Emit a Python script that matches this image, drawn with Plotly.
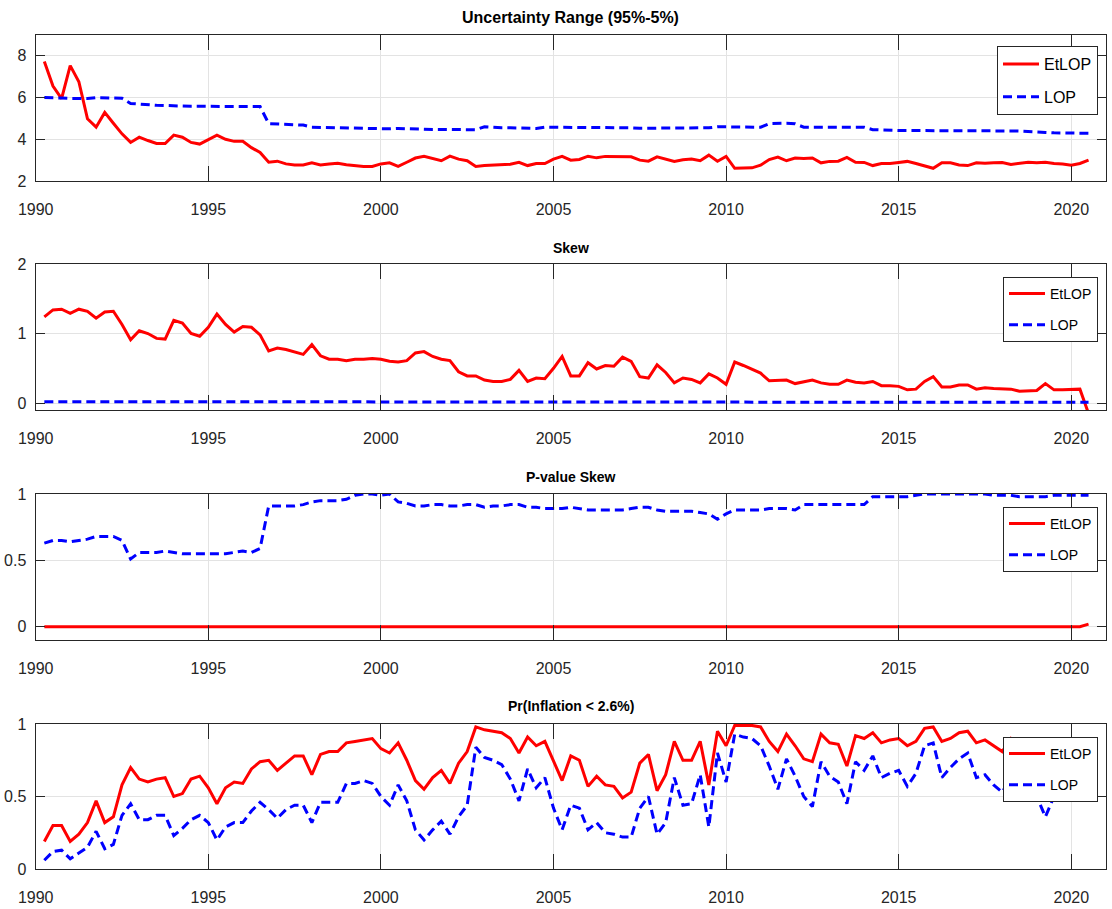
import plotly.graph_objects as go

# Quarterly time axis, 1990Q1 .. 2020Q3 plotted at year + quarter/4
quarters = [1990.25 + 0.25 * k for k in range(122)]

# Uncertainty range (95%-5%)
range_etlop = [
    7.73, 6.55, 5.95, 7.53, 6.76, 4.98, 4.58, 5.29, 4.77, 4.26,
    3.85, 4.10, 3.94, 3.80, 3.80, 4.20, 4.10, 3.85, 3.77, 4.00,
    4.20, 4.00, 3.90, 3.90, 3.60, 3.37, 2.90, 2.95, 2.82, 2.77,
    2.77, 2.87, 2.77, 2.82, 2.85, 2.78, 2.73, 2.70, 2.70, 2.82,
    2.87, 2.70, 2.90, 3.10, 3.18, 3.06, 2.97, 3.19, 3.05, 2.97,
    2.70, 2.74, 2.76, 2.76, 2.80, 2.90, 2.74, 2.84, 2.84, 3.05,
    3.18, 3.00, 3.03, 3.19, 3.11, 3.18, 3.18, 3.18, 3.16, 3.00,
    2.95, 3.16, 3.06, 2.94, 3.02, 3.05, 2.97, 3.24, 2.95, 3.18,
    2.61, 2.63, 2.63, 2.76, 3.03, 3.15, 2.97, 3.10, 3.08, 3.10,
    2.87, 2.94, 2.95, 3.13, 2.90, 2.89, 2.74, 2.84, 2.84, 2.89,
    2.94, 2.84, 2.71, 2.61, 2.87, 2.87, 2.77, 2.74, 2.87, 2.85,
    2.87, 2.89, 2.79, 2.85, 2.90, 2.87, 2.90, 2.84, 2.82, 2.76,
    2.84, 3.00,
]
range_lop = [
    6.00, 6.00, 5.98, 5.96, 5.95, 5.95, 6.00, 5.98, 5.96, 5.97,
    5.72, 5.68, 5.65, 5.63, 5.62, 5.60, 5.58, 5.58, 5.58, 5.58,
    5.57, 5.57, 5.56, 5.55, 5.55, 5.57, 4.75, 4.73, 4.72, 4.72,
    4.68, 4.58, 4.57, 4.56, 4.56, 4.56, 4.55, 4.55, 4.53, 4.50,
    4.50, 4.52, 4.50, 4.48, 4.47, 4.47, 4.47, 4.47, 4.47, 4.46,
    4.46, 4.60, 4.56, 4.55, 4.55, 4.54, 4.53, 4.52, 4.58, 4.58,
    4.58, 4.58, 4.58, 4.57, 4.58, 4.57, 4.56, 4.56, 4.55, 4.53,
    4.53, 4.53, 4.53, 4.55, 4.53, 4.53, 4.53, 4.55, 4.60, 4.60,
    4.58, 4.57, 4.57, 4.58, 4.75, 4.77, 4.77, 4.74, 4.58, 4.58,
    4.58, 4.59, 4.60, 4.60, 4.60, 4.58, 4.46, 4.44, 4.43, 4.42,
    4.42, 4.42, 4.43, 4.43, 4.43, 4.42, 4.42, 4.41, 4.41, 4.41,
    4.40, 4.40, 4.40, 4.39, 4.38, 4.36, 4.33, 4.31, 4.30, 4.30,
    4.29, 4.29,
]

# Skew
skew_etlop = [
    1.24, 1.34, 1.35, 1.29, 1.35, 1.32, 1.22, 1.31, 1.32, 1.13,
    0.91, 1.04, 1.00, 0.93, 0.92, 1.19, 1.15, 1.00, 0.96, 1.09,
    1.28, 1.13, 1.02, 1.10, 1.09, 0.98, 0.75, 0.79, 0.77, 0.74,
    0.70, 0.84, 0.68, 0.63, 0.63, 0.61, 0.63, 0.63, 0.64, 0.63,
    0.60, 0.59, 0.61, 0.72, 0.74, 0.67, 0.63, 0.61, 0.45, 0.39,
    0.39, 0.33, 0.31, 0.31, 0.34, 0.47, 0.31, 0.36, 0.35, 0.50,
    0.67, 0.39, 0.39, 0.58, 0.49, 0.54, 0.53, 0.66, 0.60, 0.38,
    0.36, 0.55, 0.44, 0.29, 0.36, 0.34, 0.29, 0.42, 0.36, 0.27,
    0.59, 0.54, 0.48, 0.43, 0.32, 0.33, 0.33, 0.28, 0.30, 0.33,
    0.29, 0.27, 0.27, 0.33, 0.30, 0.29, 0.31, 0.25, 0.25, 0.24,
    0.19, 0.20, 0.31, 0.38, 0.23, 0.23, 0.26, 0.26, 0.20, 0.22,
    0.21, 0.20, 0.20, 0.17, 0.18, 0.18, 0.28, 0.19, 0.19, 0.20,
    0.20, -0.15,
]
skew_lop = [
    0.02, 0.02, 0.02, 0.02, 0.02, 0.02, 0.02, 0.02, 0.02, 0.02,
    0.02, 0.02, 0.02, 0.02, 0.02, 0.02, 0.02, 0.02, 0.02, 0.02,
    0.02, 0.02, 0.02, 0.02, 0.02, 0.02, 0.01, 0.01, 0.01, 0.01,
    0.01, 0.01, 0.01, 0.01, 0.01, 0.01, 0.01, 0.01, 0.01, 0.01,
    0.01, 0.01, 0.01, 0.01, 0.01, 0.01, 0.01, 0.01, 0.01, 0.01,
    0.01, 0.01, 0.01, 0.01, 0.01, 0.01, 0.01, 0.01, 0.01, 0.01,
    0.01, 0.01, 0.01, 0.01, 0.01, 0.01, 0.01, 0.01, 0.01, 0.01,
    0.01, 0.01, 0.01, 0.01, 0.01, 0.01, 0.01, 0.01, 0.01, 0.01,
    0.01, 0.01, 0.01, 0.01, 0.01, 0.01, 0.01, 0.01, 0.01, 0.01,
    0.01, 0.01, 0.01, 0.01, 0.01, 0.01, 0.01, 0.01, 0.01, 0.01,
    0.01, 0.01, 0.01, 0.01, 0.01, 0.01, 0.01, 0.01, 0.01, 0.01,
    0.01, 0.01, 0.01, 0.01, 0.01, 0.01, 0.01, 0.01, 0.01, 0.01,
    0.01, 0.01,
]

# P-value of the skew
pval_etlop = [
    0.00, 0.00, 0.00, 0.00, 0.00, 0.00, 0.00, 0.00, 0.00, 0.00,
    0.00, 0.00, 0.00, 0.00, 0.00, 0.00, 0.00, 0.00, 0.00, 0.00,
    0.00, 0.00, 0.00, 0.00, 0.00, 0.00, 0.00, 0.00, 0.00, 0.00,
    0.00, 0.00, 0.00, 0.00, 0.00, 0.00, 0.00, 0.00, 0.00, 0.00,
    0.00, 0.00, 0.00, 0.00, 0.00, 0.00, 0.00, 0.00, 0.00, 0.00,
    0.00, 0.00, 0.00, 0.00, 0.00, 0.00, 0.00, 0.00, 0.00, 0.00,
    0.00, 0.00, 0.00, 0.00, 0.00, 0.00, 0.00, 0.00, 0.00, 0.00,
    0.00, 0.00, 0.00, 0.00, 0.00, 0.00, 0.00, 0.00, 0.00, 0.00,
    0.00, 0.00, 0.00, 0.00, 0.00, 0.00, 0.00, 0.00, 0.00, 0.00,
    0.00, 0.00, 0.00, 0.00, 0.00, 0.00, 0.00, 0.00, 0.00, 0.00,
    0.00, 0.00, 0.00, 0.00, 0.00, 0.00, 0.00, 0.00, 0.00, 0.00,
    0.00, 0.00, 0.00, 0.00, 0.00, 0.00, 0.00, 0.00, 0.00, 0.00,
    0.00, 0.02,
]
pval_lop = [
    0.63, 0.65, 0.65, 0.64, 0.65, 0.66, 0.68, 0.68, 0.68, 0.65,
    0.51, 0.56, 0.56, 0.56, 0.57, 0.56, 0.55, 0.55, 0.55, 0.55,
    0.55, 0.55, 0.56, 0.57, 0.56, 0.59, 0.91, 0.91, 0.91, 0.91,
    0.92, 0.94, 0.95, 0.95, 0.95, 0.96, 0.99, 1.00, 1.00, 0.99,
    1.00, 0.94, 0.93, 0.91, 0.91, 0.92, 0.92, 0.91, 0.91, 0.92,
    0.92, 0.90, 0.91, 0.91, 0.92, 0.92, 0.90, 0.90, 0.89, 0.89,
    0.89, 0.90, 0.89, 0.88, 0.88, 0.88, 0.88, 0.88, 0.89, 0.90,
    0.90, 0.88, 0.87, 0.87, 0.87, 0.87, 0.86, 0.85, 0.81, 0.85,
    0.88, 0.88, 0.88, 0.88, 0.89, 0.89, 0.89, 0.88, 0.92, 0.92,
    0.92, 0.92, 0.92, 0.92, 0.92, 0.92, 0.98, 0.98, 0.98, 0.98,
    0.98, 0.99, 1.00, 1.00, 1.00, 1.00, 1.00, 1.00, 1.00, 1.00,
    0.99, 0.99, 0.99, 0.98, 0.98, 0.98, 0.98, 0.99, 0.99, 0.99,
    0.99, 0.99,
]

# Probability that inflation is below 2.6%
prob_etlop = [
    0.19, 0.30, 0.30, 0.19, 0.24, 0.32, 0.47, 0.32, 0.36, 0.58,
    0.70, 0.62, 0.60, 0.62, 0.63, 0.50, 0.52, 0.62, 0.64, 0.56,
    0.45, 0.56, 0.60, 0.59, 0.69, 0.74, 0.75, 0.68, 0.73, 0.78,
    0.78, 0.65, 0.79, 0.81, 0.81, 0.87, 0.88, 0.89, 0.90, 0.83,
    0.80, 0.87, 0.75, 0.61, 0.55, 0.63, 0.68, 0.59, 0.73, 0.81,
    0.98, 0.96, 0.95, 0.94, 0.90, 0.80, 0.91, 0.85, 0.88, 0.75,
    0.61, 0.78, 0.75, 0.57, 0.64, 0.58, 0.57, 0.49, 0.53, 0.73,
    0.79, 0.54, 0.65, 0.88, 0.75, 0.75, 0.88, 0.58, 0.95, 0.85,
    0.99, 0.99, 0.99, 0.98, 0.88, 0.81, 0.93, 0.85, 0.76, 0.74,
    0.93, 0.87, 0.86, 0.71, 0.92, 0.90, 0.94, 0.87, 0.89, 0.90,
    0.85, 0.88, 0.97, 0.98, 0.88, 0.90, 0.94, 0.95, 0.87, 0.89,
    0.85, 0.81, 0.90, 0.84, 0.80, 0.83, 0.72, 0.80, 0.85, 0.87,
    0.85, 0.88,
]
prob_lop = [
    0.06, 0.12, 0.13, 0.07, 0.11, 0.15, 0.26, 0.14, 0.17, 0.37,
    0.45, 0.34, 0.34, 0.37, 0.37, 0.23, 0.28, 0.34, 0.37, 0.32,
    0.20, 0.29, 0.32, 0.32, 0.40, 0.46, 0.41, 0.35, 0.41, 0.44,
    0.44, 0.32, 0.46, 0.46, 0.46, 0.59, 0.59, 0.61, 0.59, 0.50,
    0.44, 0.58, 0.47, 0.27, 0.20, 0.27, 0.33, 0.24, 0.36, 0.44,
    0.84, 0.77, 0.75, 0.72, 0.62, 0.47, 0.69, 0.56, 0.63, 0.42,
    0.27, 0.44, 0.42, 0.27, 0.32, 0.25, 0.24, 0.22, 0.22, 0.42,
    0.50, 0.24, 0.32, 0.63, 0.44, 0.45, 0.65, 0.29, 0.80, 0.60,
    0.93, 0.91, 0.90, 0.85, 0.71, 0.55, 0.76, 0.64, 0.50, 0.43,
    0.74, 0.64, 0.60, 0.45, 0.74, 0.68, 0.78, 0.63, 0.66, 0.68,
    0.57, 0.66, 0.85, 0.87, 0.63, 0.70, 0.76, 0.80, 0.63, 0.65,
    0.58, 0.53, 0.63, 0.60, 0.55, 0.50, 0.36, 0.50, 0.60, 0.62,
    0.60, 0.70,
]

panel_titles = ["Uncertainty Range (95%-5%)", "Skew", "P-value Skew", "Pr(Inflation < 2.6%)"]
year_ticks = [1990, 1995, 2000, 2005, 2010, 2015, 2020]
panels = [
    dict(etlop=range_etlop, lop=range_lop, ylim=[2, 9], yticks=[2, 4, 6, 8], yticktext=["2", "4", "6", "8"]),
    dict(etlop=skew_etlop, lop=skew_lop, ylim=[-0.1, 2], yticks=[0, 1, 2], yticktext=["0", "1", "2"]),
    dict(etlop=pval_etlop, lop=pval_lop, ylim=[-0.1, 1], yticks=[0, 0.5, 1], yticktext=["0", "0.5", "1"]),
    dict(etlop=prob_etlop, lop=prob_lop, ylim=[0, 1], yticks=[0, 0.5, 1], yticktext=["0", "0.5", "1"]),
]

W, H = 1112, 909
FONT = "Liberation Sans, Arial, Helvetica, sans-serif"
AX = "#262626"
GRID = "#e3e3e3"

# pixel geometry of each axes box: (top, bottom)
boxes = [(35, 181), (264, 410), (494, 640), (724, 869)]
x_left, x_right = 35.7, 1105.8
title_y = [17, 248, 477, 706]
title_size = [16, 14, 14, 14]
legend_top = [46, 277, 507, 737]
legend_font = [16, 14, 14, 14]
legend_gap = [9, 10, 10, 10]

fig = go.Figure()
layout = dict(
    width=W, height=H,
    margin=dict(l=0, r=0, t=0, b=0, autoexpand=False),
    paper_bgcolor="white", plot_bgcolor="white",
    font=dict(family=FONT, color=AX),
    annotations=[],
)

for i, p in enumerate(panels):
    n = "" if i == 0 else str(i + 1)
    top, bot = boxes[i]
    leg_name = "legend" + n
    fig.add_trace(go.Scatter(
        x=quarters, y=p["etlop"], mode="lines", name="EtLOP",
        line=dict(color="#ff0000", width=3),
        xaxis="x" + n, yaxis="y" + n, legend=leg_name, legendgroup="a" + n,
    ))
    fig.add_trace(go.Scatter(
        x=quarters, y=p["lop"], mode="lines", name="LOP",
        line=dict(color="#0000ff", width=3, dash="9px,5px"),
        xaxis="x" + n, yaxis="y" + n, legend=leg_name, legendgroup="b" + n,
    ))
    common = dict(
        showline=True, linecolor=AX, linewidth=1.3, mirror="ticks",
        ticks="inside", tickcolor=AX, tickwidth=1.2, automargin=False,
        showgrid=True, gridcolor=GRID, gridwidth=1, zeroline=False,
        tickfont=dict(family=FONT, size=16, color=AX),
    )
    layout["xaxis" + n] = dict(
        common, domain=[x_left / W, x_right / W], range=[1990, 2021],
        tickmode="array", tickvals=year_ticks, ticklen=15,
        anchor="y" + n, ticklabelstandoff=14,
    )
    layout["yaxis" + n] = dict(
        common, domain=[1 - bot / H, 1 - top / H], range=p["ylim"],
        tickmode="array", tickvals=p["yticks"], ticktext=p["yticktext"],
        ticklen=9, anchor="x" + n, ticklabelstandoff=5,
    )
    layout[leg_name] = dict(
        x=1098 / W, xanchor="right", y=1 - legend_top[i] / H, yanchor="top",
        bgcolor="white", bordercolor=AX, borderwidth=1,
        font=dict(family=FONT, size=legend_font[i], color="#000000"),
        itemwidth=36, traceorder="grouped", tracegroupgap=legend_gap[i],
    )
    layout["annotations"].append(dict(
        text=panel_titles[i], xref="paper", yref="paper",
        x=(x_left + x_right) / 2 / W, y=1 - title_y[i] / H,
        xanchor="center", yanchor="middle", showarrow=False,
        font=dict(family=FONT, size=title_size[i], color="#000000", weight="bold"),
    ))

fig.update_layout(**layout)
fig.write_html("out.html")
